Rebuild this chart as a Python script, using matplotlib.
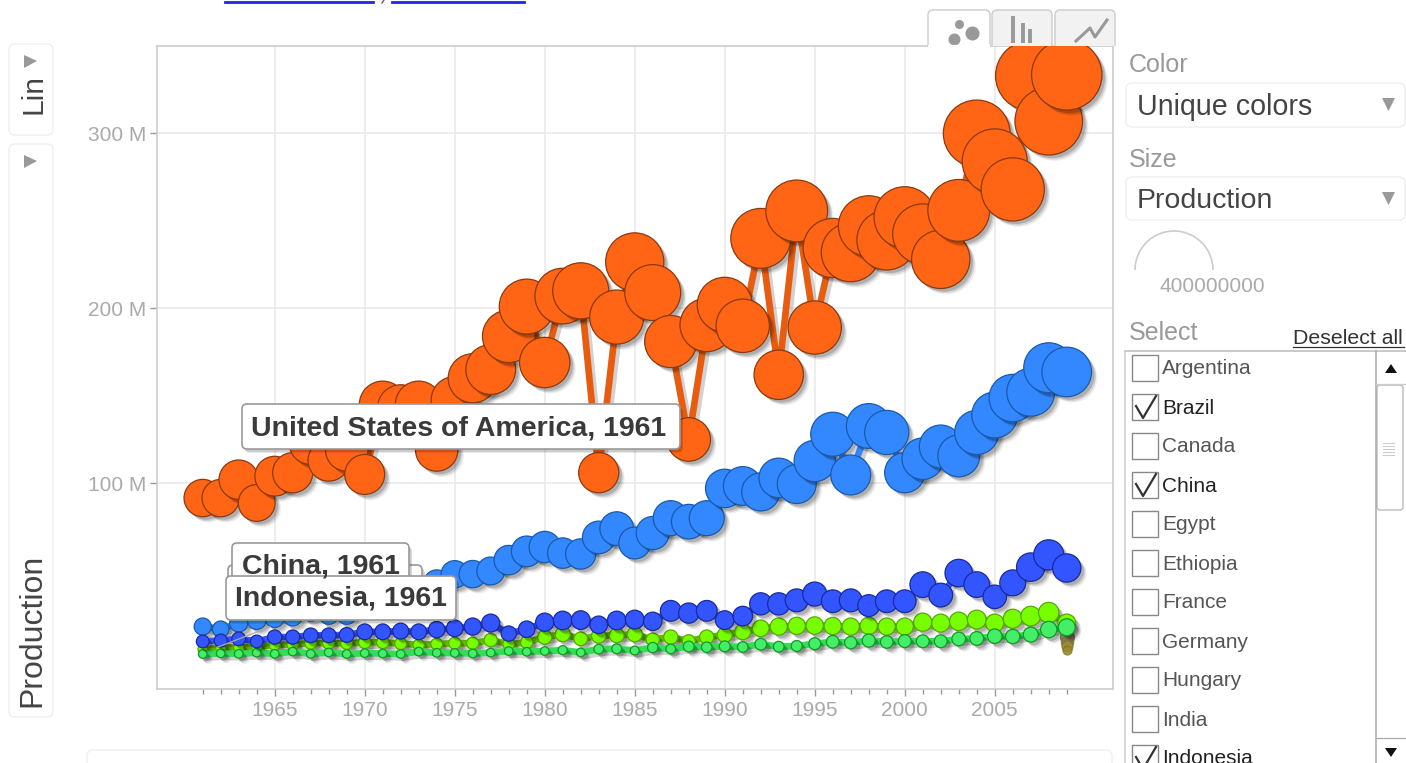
import matplotlib
matplotlib.use('Agg')
import matplotlib.pyplot as plt
import matplotlib.patheffects as pe
from matplotlib.patches import FancyBboxPatch, Polygon, Arc, Rectangle

plt.rcParams['font.family'] = ['Liberation Sans', 'DejaVu Sans']

# production per year, in millions
years = list(range(1961, 2010))
usa = [91.5, 91.5, 102, 88.7, 104, 106, 123, 113, 119, 105,
       145, 143, 145, 119, 147.5, 160, 165, 184, 201, 169,
       207, 210, 106, 195, 226.5, 209, 181, 125, 190.5, 202,
       190, 240, 162, 255.7, 189, 234.5, 232, 247, 239, 252,
       242.5, 228, 256, 300, 284, 268, 333, 307, 333.5]
china = [18, 16.5, 20, 21.7, 23, 24, 27, 25, 25, 33,
         35, 32, 38, 43, 47.9, 48, 49.8, 56, 61, 63.5,
         60, 59.5, 69, 74, 65.8, 71.5, 80, 78, 80, 97,
         98.4, 95, 103, 99.5, 112.7, 128, 104.7, 132.7, 129, 106,
         114, 121, 115.6, 129, 139, 148.7, 152, 166, 163.6]
brazil = [9.5, 10, 11, 9.5, 12, 12, 13, 13, 13.2, 15,
          15, 15.4, 15, 16.3, 17, 18, 20, 14, 16.5, 20.5,
          21.5, 21.7, 19, 21.5, 22, 21, 27, 25.7, 27, 21.7,
          24, 31, 31, 33, 36.6, 32.5, 33, 30, 32.5, 32.5,
          42, 36, 48.6, 42, 35, 43, 52, 59, 51.5]
lime = [5, 6, 6, 6.3, 7.7, 7.7, 8.6, 8.5, 8.4, 9,
        9, 8.3, 7.5, 8, 8.5, 8.5, 10.3, 8, 9, 12,
        13.7, 11, 12.7, 13, 13.6, 10.5, 12, 9.7, 12, 13.2,
        15, 17, 18, 18.4, 18.6, 18.3, 18, 18.4, 18, 18,
        20.5, 20, 21, 22, 20, 22.5, 24, 26, 20]
indonesia = [2.3, 2.7, 2.4, 3.1, 2.4, 3.7, 2.4, 3.2, 2.3, 2.8,
             2.6, 2.3, 3.7, 3.0, 2.9, 2.6, 3.1, 4.0, 3.6, 4.0,
             4.5, 3.2, 5.1, 5.3, 4.3, 6.0, 5.2, 6.6, 6.2, 6.7,
             6.3, 7.9, 6.5, 6.9, 8.2, 9.3, 8.8, 10, 9.2, 9.7,
             9.6, 9.6, 10.9, 11.2, 12.5, 12.3, 13.4, 16.3, 17.6]

# unselected countries, collapsed at the last year
other_values = [12, 9, 7, 4.5]
other_colors = ['#66665f', '#887744', '#aa8833', '#998822']

x_labels = [1965, 1970, 1975, 1980, 1985, 1990, 1995, 2000, 2005]
y_ticks = [100, 200, 300]
y_labels = ['100 M', '200 M', '300 M']

countries = ['Argentina', 'Brazil', 'Canada', 'China', 'Egypt', 'Ethiopia',
             'France', 'Germany', 'Hungary', 'India', 'Indonesia']
checked = ['Brazil', 'China', 'Indonesia']

W, H = 1406, 763
fig = plt.figure(figsize=(W / 100, H / 100), dpi=100)

# plot box, pixels 157..1113 and 46..689
ax = fig.add_axes([157 / W, 1 - 689 / H, (1113 - 157) / W, (689 - 46) / H])
ax.set_xlim(1958.46, 2011.57)
ax.set_ylim(-17.7, 350)


def size(value):
    r = max(1.9 * value ** 0.5 + 0.5, 4.3)
    return (2 * r * 0.72) ** 2


shadow = [pe.SimplePatchShadow(offset=(4.2, -4.2), shadow_rgbFace='k', alpha=0.07),
          pe.SimplePatchShadow(offset=(3.2, -3.2), shadow_rgbFace='k', alpha=0.12),
          pe.SimplePatchShadow(offset=(2.2, -2.2), shadow_rgbFace='k', alpha=0.16),
          pe.Normal()]
line_shadow = [pe.SimpleLineShadow(offset=(2.5, -2.5), shadow_color='k', alpha=0.18),
               pe.Normal()]


def draw_series(values, color, edge, trail):
    ax.plot(years, values, color=trail, lw=4.8, zorder=3, solid_capstyle='round',
            path_effects=line_shadow)
    for year, value in zip(years, values):
        ax.scatter(year, value, s=size(value), color=color, edgecolors=edge,
                   linewidths=0.9, zorder=3, path_effects=shadow)


draw_series(usa, '#ff6514', '#8a3a10', '#e85c10')
draw_series(china, '#3388ff', '#1a5aaa', '#3388ff')
for value, color in zip(other_values, other_colors):
    ax.scatter(2009, value, s=size(value), color=color, edgecolors='#777733',
               linewidths=0.8, alpha=0.85, zorder=3)
draw_series(lime, '#77ff00', '#55aa00', '#66bb00')
draw_series(indonesia, '#44ee66', '#119922', '#33dd55')
draw_series(brazil, '#3355ff', '#1a2a99', '#3355ff')

ax.set_xticks(x_labels)
ax.set_xticks(years, minor=True)
ax.set_yticks(y_ticks)
ax.set_yticklabels(y_labels)
ax.grid(True, which='major', color='#e8e8e8', lw=1.1)
ax.set_axisbelow(True)
ax.tick_params(axis='both', which='major', length=5, width=1, color='#999999',
               labelcolor='#aaaaaa', labelsize=15, pad=3)
ax.tick_params(axis='x', which='minor', length=3.5, width=1, color='#999999')
ax.tick_params(axis='x', which='major', pad=3.4)
for spine in ax.spines.values():
    spine.set_color('#cccccc')
    spine.set_linewidth(1.2)

# everything else is page furniture, drawn in pixel coordinates
ui = fig.add_axes([0, 0, 1, 1], zorder=5)
ui.set_xlim(0, W)
ui.set_ylim(H, 0)
ui.axis('off')


def box(x0, y0, x1, y1, edge='#eeeeee', face='white', lw=1.0, rad=6, **kw):
    patch = FancyBboxPatch((x0 + rad, y0 + rad), x1 - x0 - 2 * rad, y1 - y0 - 2 * rad,
                           boxstyle='round,pad=%d,rounding_size=%d' % (rad, rad),
                           facecolor=face, edgecolor=edge, linewidth=lw, **kw)
    ui.add_patch(patch)
    return patch


def tooltip(x0, y0, x1, y1, label=None, text_x=0, text_y=0):
    box(x0, y0, x1, y1, edge='#999999', lw=1.2, rad=5, path_effects=[
        pe.SimplePatchShadow(offset=(2, -2.5), shadow_rgbFace='k', alpha=0.2), pe.Normal()])
    if label:
        ui.text(text_x, text_y, label, fontsize=20.5, fontweight='bold', color='#3a3a3a',
                ha='left', va='center')


# tooltips
ui.plot([218, 270], [647, 627], color='#aaaaaa', lw=0.9)
tooltip(242, 404, 680, 449, 'United States of America, 1961', 251, 429)
tooltip(228, 565, 422, 600)
tooltip(232, 543, 409, 592, 'China, 1961', 242, 566)
tooltip(226, 576, 456, 620, 'Indonesia, 1961', 235, 599)

# link stubs cut off by the top of the page
ui.plot([225, 373], [1.5, 1.5], color='#2222ee', lw=2)
ui.plot([392, 524], [1.5, 1.5], color='#2222ee', lw=2)
ui.plot([384, 382], [0, 3], color='#666666', lw=1)

# chart type tabs, square at the bottom where they meet the plot
for x0, x1, face in [(992, 1052, '#f2f2f2'), (1055, 1115, '#f2f2f2'), (928, 990, 'white')]:
    tab = FancyBboxPatch((x0 + 5, 15), x1 - x0 - 10, 40,
                         boxstyle='round,pad=5,rounding_size=5',
                         facecolor=face, edgecolor='#cccccc', linewidth=1.0)
    ui.add_patch(tab)
    tab.set_clip_path(Rectangle((x0 - 2, 8), x1 - x0 + 4, 38, transform=ui.transData))
ui.plot([929, 989], [46, 46], color='white', lw=1.6)
for cx, cy, r in [(959, 24, 4.5), (972, 33, 7), (954, 39, 6)]:
    ui.scatter(cx, cy, s=(2 * r * 0.72) ** 2, color='#999999', linewidths=0)
for bx, top in [(1013, 16), (1023, 23), (1030, 29)]:
    ui.plot([bx, bx], [top, 43], color='#999999', lw=2.8, solid_capstyle='butt')
ui.plot([1076, 1090, 1095, 1107], [41, 28, 37, 20], color='#999999', lw=2.2)

# left buttons
box(9, 44, 53, 135)
box(9, 144, 53, 717)
ui.add_patch(Polygon([[24, 55], [37, 61], [24, 68]], color='#999999', lw=0))
ui.add_patch(Polygon([[24, 155], [37, 161], [24, 168]], color='#999999', lw=0))
ui.text(33, 94, 'Lin', rotation=90, fontsize=21.5, color='#444444', ha='center', va='center')
ui.text(32, 630, 'Production', rotation=90, fontsize=23, color='#444444', ha='center', va='center')

# strip under the chart
box(87, 750, 1112, 790)

# right panel
ui.text(1129, 65, 'Color', fontsize=18, color='#999999', va='center')
box(1126, 83, 1405, 127)
ui.text(1137, 107, 'Unique colors', fontsize=20.6, color='#444444', va='center')
ui.add_patch(Polygon([[1382, 98], [1395, 98], [1388.5, 111]], color='#999999', lw=0))
ui.text(1129, 160, 'Size', fontsize=18, color='#999999', va='center')
box(1126, 177, 1405, 220)
ui.text(1137, 201, 'Production', fontsize=20.5, color='#444444', va='center')
ui.add_patch(Polygon([[1382, 192], [1395, 192], [1388.5, 205]], color='#999999', lw=0))
ui.add_patch(Arc((1174, 270), 78, 78, theta1=180, theta2=360, color='#cccccc', lw=1.2))
ui.text(1212, 287, '400000000', fontsize=15, color='#aaaaaa', ha='center', va='center')
ui.text(1129, 333, 'Select', fontsize=18, color='#999999', va='center')
ui.text(1293, 338, 'Deselect all', fontsize=15.3, color='#333333', va='center')
ui.plot([1293, 1404], [347, 347], color='#333333', lw=0.9)

# country list
ui.plot([1125, 1406], [351, 351], color='#bbbbbb', lw=1.1)
ui.plot([1125, 1125], [351, H], color='#cccccc', lw=1.1)
ui.plot([1376, 1376], [351, H], color='#aaaaaa', lw=1.1)
ui.plot([1376, 1406], [384, 384], color='#cccccc', lw=0.9)
ui.plot([1376, 1406], [738, 738], color='#aaaaaa', lw=0.9)
ui.add_patch(Polygon([[1385, 373], [1397, 373], [1391, 364]], color='#111111', lw=0))
ui.add_patch(Polygon([[1385, 748], [1397, 748], [1391, 757]], color='#111111', lw=0))
box(1377, 385, 1403, 510, edge='#bbbbbb', rad=3)
for gy in [443, 446, 449, 452, 455]:
    ui.plot([1383, 1394], [gy, gy], color='#cccccc', lw=0.8)

for i, name in enumerate(countries):
    cy = 368 + 39 * i
    ui.add_patch(Rectangle((1131.5, cy - 13), 26, 26, facecolor='white', edgecolor='#888888', lw=1.0))
    is_checked = name in checked
    if is_checked:
        ui.plot([1136, 1143, 1156], [cy - 1, cy + 11, cy - 11], color='#333333', lw=1.6)
    ui.text(1162, cy + 1, name, fontsize=15, color='#222222' if is_checked else '#555555', va='center')

fig.savefig('out.png', dpi=100)
